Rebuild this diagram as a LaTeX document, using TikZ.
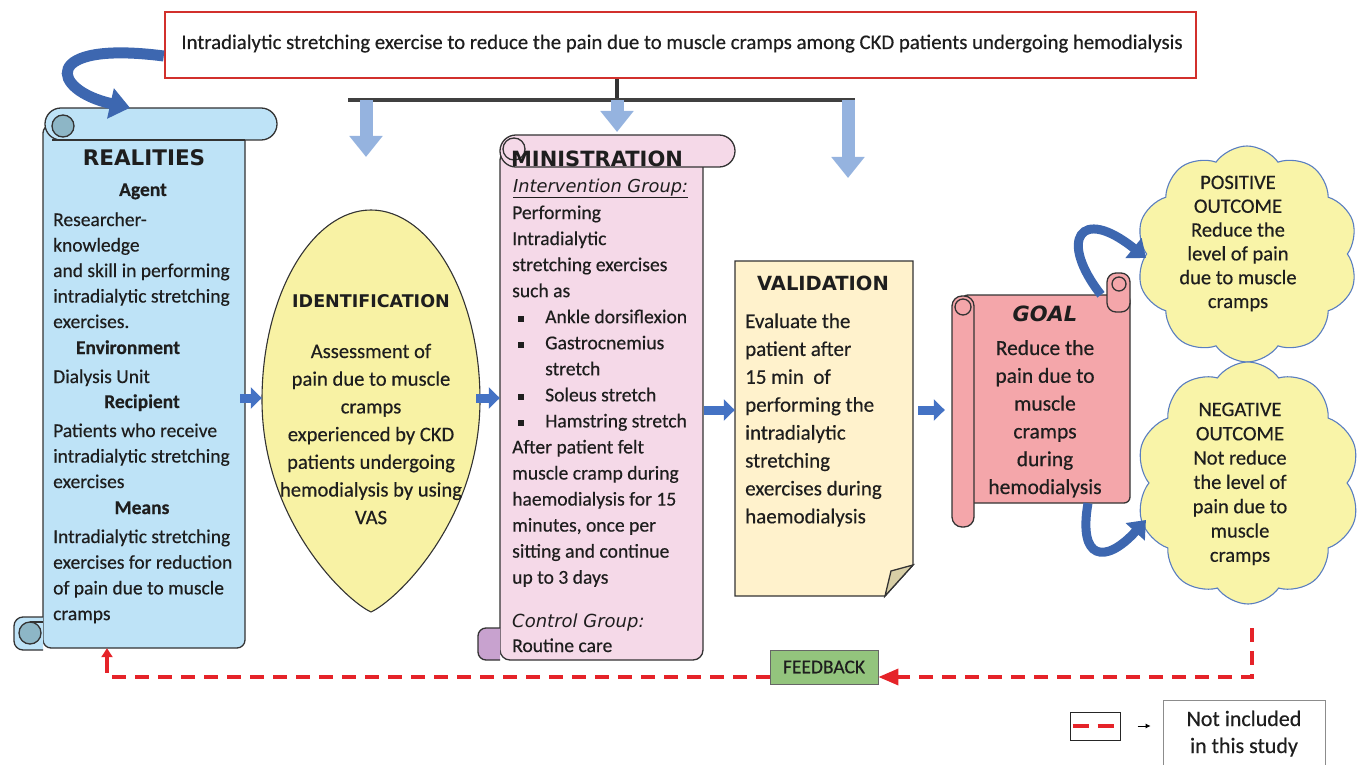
\documentclass[tikz,border=0pt]{standalone}
\usepackage{fontspec}
\setmainfont{Carlito}[FakeBold=0.4]
\newfontfamily\comic{DejaVu Sans}
\usetikzlibrary{shapes.symbols,arrows.meta,calc}
\definecolor{ink}{HTML}{1E1E1E}
\definecolor{realc}{HTML}{BEE3F7}
\definecolor{realcurl}{HTML}{8DB6C6}
\definecolor{identc}{HTML}{F8F2A4}
\definecolor{minic}{HTML}{F5D9E8}
\definecolor{minicurl}{HTML}{C8A2CF}
\definecolor{valc}{HTML}{FFF2CC}
\definecolor{foldc}{HTML}{D8CFA6}
\definecolor{goalc}{HTML}{F4A6AA}
\definecolor{cloudc}{HTML}{F9F4A8}
\definecolor{cloudline}{HTML}{5A7EC0}
\definecolor{barc}{HTML}{4472C4}
\definecolor{downc}{HTML}{95B3DF}
\definecolor{fbred}{HTML}{E52329}
\definecolor{fbgreen}{HTML}{93C47D}
\definecolor{topred}{HTML}{D2302C}
\begin{document}
\begin{tikzpicture}[x=1pt,y=-1pt,
  sc/.style={draw=black!80, line width=1.3pt},
  tl/.style={inner sep=0pt, anchor=base west, text=ink},
  tc/.style={inner sep=0pt, anchor=base, text=ink},
  hd/.style={tc, font=\fontsize{19.5}{22}\selectfont\bfseries},
  ttl/.style={tc, font=\comic\bfseries\fontsize{20}{22}\selectfont},
  area/.style={inner sep=0pt, draw=none},
  barrow/.style={line width=9pt, draw=barc, -{Triangle[width=21pt,length=11pt]}},
  downarrow/.style={line width=13pt, draw=downc, -{Triangle[width=32pt,length=21pt]}},
  curvarrow/.style={line width=11pt, draw=barc!90!black, -{Triangle[width=30pt,length=20pt]}},
  fbline/.style={draw=fbred, line width=3.5pt, dash pattern=on 14pt off 9pt},
]
\useasboundingbox (0,0) rectangle (1363,765);

% ---------- top box ----------
\node[draw=topred, line width=2.5pt, fill=white, minimum width=1031pt, minimum height=66pt, inner sep=0pt] (top) at (680.5,45) {};
\node[tc, font=\fontsize{20.8}{24}\selectfont] (toptext) at (682,49) {Intradialytic stretching exercise to reduce the pain due to muscle cramps among CKD patients undergoing hemodialysis};

% bracket
\coordinate (bt) at (617,0 |- top.south);
\coordinate (bm) at (617,100);
\coordinate (bl) at (348,100);
\coordinate (br) at (855,100);
\draw[line width=4pt, draw=black!80] (bt) -- (bm);
\draw[line width=4pt, draw=black!75] (bl) -- (br);
\coordinate (d1) at (366,100);
\coordinate (d2) at (617,100);
\coordinate (d3) at (848,100);
\coordinate (e1) at (366,157);
\coordinate (e2) at (617,132);
\coordinate (e3) at (848,178);
\draw[downarrow] (d1) -- (e1);
\draw[downarrow] (d2) -- (e2);
\draw[downarrow] (d3) -- (e3);

% ---------- REALITIES scroll ----------
\node[area, minimum width=202pt, minimum height=540pt] (real) at (144,378) {};
\draw[sc, fill=realc, rounded corners=8pt] (43,125) rectangle (245,648);
\draw[sc, fill=realc, rounded corners=9pt] (43,617) -- (14,617) -- (14,650) -- (43,650);
\draw[sc, fill=realcurl] (30,633) circle[radius=11];
\draw[sc] (30,622) -- (43,622);
\draw[sc, fill=realc, rounded corners=15.9pt] (45,108) rectangle (277,140);
\draw[sc, fill=realcurl] (63,126) circle[radius=11];
\draw[sc] (52,140) -- (245,140);

\node[ttl, font=\comic\bfseries\fontsize{21.5}{24}\selectfont] (realT) at (144,166) {REALITIES};
\node[hd] (agent) at (143,196) {Agent};
\node[tl, font=\fontsize{19.5}{25.5}\selectfont] (r1) at (53,226) {\parbox[t]{200pt}{\raggedright Researcher-\\knowledge\\and skill in performing\\intradialytic stretching\\exercises.}};
\node[hd] (env) at (128,354) {Environment};
\node[tl, font=\fontsize{19.5}{25.5}\selectfont] (r2) at (53,383) {Dialysis Unit};
\node[hd] (recip) at (142,408) {Recipient};
\node[tl, font=\fontsize{19.5}{25.5}\selectfont] (r3) at (53,437) {\parbox[t]{200pt}{\raggedright Patients who receive\\intradialytic stretching\\exercises}};
\node[hd] (means) at (142,514) {Means};
\node[tl, font=\fontsize{19.5}{25.7}\selectfont] (r4) at (53,543) {\parbox[t]{200pt}{\raggedright Intradialytic stretching\\exercises for reduction\\of pain due to muscle\\cramps}};

% ---------- IDENTIFICATION egg ----------
\node[area, minimum width=218pt, minimum height=402pt] (ident) at (371,411) {};
\draw[sc, fill=identc, line width=1.1pt] (371,210) .. controls (312,210) and (262,295) .. (262,400) .. controls (262,520) and (345,600) .. (371,612) .. controls (397,600) and (480,520) .. (480,400) .. controls (480,295) and (430,210) .. (371,210) -- cycle;
\node[ttl, font=\comic\bfseries\fontsize{17.5}{20}\selectfont] (identT) at (371,307) {IDENTIFICATION};
\node[tc, font=\fontsize{20.6}{27.7}\selectfont] (identB) at (371,358) {\parbox[t]{230pt}{\centering Assessment of\\pain due to muscle\\cramps\\experienced by CKD\\patients undergoing\\hemodialysis by using\\VAS}};

% ---------- MINISTRATION scroll ----------
\node[area, minimum width=203pt, minimum height=520pt] (mini) at (601.5,400) {};
\draw[sc, fill=minic, rounded corners=10pt] (500,150) rectangle (703,660);
\draw[sc, fill=minicurl, rounded corners=8pt] (500,628) -- (478,628) -- (478,660) -- (500,660);
\draw[sc, fill=minic, rounded corners=15.9pt] (500,135) rectangle (735,167);
\draw[sc] (514,149) circle[radius=11];
\node[ttl, font=\comic\bfseries\fontsize{21}{24}\selectfont] (miniT) at (597,167) {MINISTRATION};
\node[tl, font=\comic\itshape\fontsize{17.8}{20}\selectfont] (intg) at (513,192) {\underline{Intervention Group:}};
\node[tl, font=\fontsize{19.6}{26.05}\selectfont] (m1) at (512,219) {\parbox[t]{195pt}{\raggedright Performing\\Intradialytic\\stretching exercises\\such as\\
\makebox[33pt][l]{\hspace{6pt}\rule[1.5pt]{5.5pt}{5.5pt}}Ankle dorsiflexion\\
\makebox[33pt][l]{\hspace{6pt}\rule[1.5pt]{5.5pt}{5.5pt}}Gastrocnemius\\
\hspace*{33pt}stretch\\
\makebox[33pt][l]{\hspace{6pt}\rule[1.5pt]{5.5pt}{5.5pt}}Soleus stretch\\
\makebox[33pt][l]{\hspace{6pt}\rule[1.5pt]{5.5pt}{5.5pt}}Hamstring stretch\\
After patient felt\\muscle cramp during\\haemodialysis for 15\\minutes, once per\\sitting and continue\\up to 3 days}};
\node[tl, font=\comic\itshape\fontsize{18}{20}\selectfont] (ctrl) at (512,627) {Control Group:};
\node[tl, font=\fontsize{19.6}{22}\selectfont] (routine) at (512,652) {Routine care};

% ---------- VALIDATION ----------
\node[area, minimum width=178pt, minimum height=335pt] (valid) at (824,428.5) {};
\draw[sc, fill=valc] (735,261) -- (913,261) -- (913,565) -- (885,596) -- (735,596) -- cycle;
\draw[sc, fill=foldc] (913,565) -- (891,571) -- (885,596) -- cycle;
\node[ttl, font=\comic\bfseries\fontsize{19.5}{22}\selectfont] (validT) at (823,290) {VALIDATION};
\node[tl, font=\fontsize{21}{27.9}\selectfont] (v1) at (745,328) {\parbox[t]{165pt}{\raggedright Evaluate the\\patient after\\15 min\ \ of\\performing the\\intradialytic\\stretching\\exercises during\\haemodialysis}};

% ---------- GOAL scroll ----------
\node[area, minimum width=175pt, minimum height=208pt] (goal) at (1042.5,399) {};
\draw[sc, fill=goalc, rounded corners=6pt] (962,295) rectangle (1130,503);
\draw[sc, fill=goalc, rounded corners=9pt] (1107,273) rectangle (1130,312);
\draw[sc] (1119,284) circle[radius=7];
\draw[sc, fill=goalc, rounded corners=10pt] (952,296) rectangle (974,527);
\draw[sc] (963,307) circle[radius=8];
\node[ttl, font=\comic\bfseries\itshape\fontsize{21}{24}\selectfont] (goalT) at (1045,321) {GOAL};
\node[tc, font=\fontsize{21.5}{27.8}\selectfont] (goalB) at (1045,355) {\parbox[t]{150pt}{\centering Reduce the\\pain due to\\muscle\\cramps\\during\\hemodialysis}};

% ---------- clouds ----------
\node[cloud, cloud puffs=10, cloud puff arc=110, aspect=1, draw=cloudline, line width=1.1pt, fill=cloudc, minimum width=222pt, minimum height=216pt, inner sep=0pt] (pos) at (1247,254) {};
\node[tc, font=\fontsize{20.5}{23.8}\selectfont] (posT) at (1238,189) {\parbox[t]{160pt}{\centering POSITIVE\\OUTCOME\\Reduce the\\level of pain\\due to muscle\\cramps}};
\node[cloud, cloud puffs=10, cloud puff arc=110, aspect=0.95, draw=cloudline, line width=1.1pt, fill=cloudc, minimum width=224pt, minimum height=242pt, inner sep=0pt] (neg) at (1248,483) {};
\node[tc, font=\fontsize{20.5}{24.3}\selectfont] (negT) at (1240,416) {\parbox[t]{160pt}{\centering NEGATIVE\\OUTCOME\\Not reduce\\the level of\\pain due to\\muscle\\cramps}};

% ---------- block arrows between stages ----------
\draw[barrow] ([xshift=-5pt]real.east |- 0,398) -- (ident.west |- 0,398);
\draw[barrow] ([xshift=-4pt]ident.east |- 0,398) -- (mini.west |- 0,398);
\draw[barrow] ([xshift=1pt]mini.east |- 0,410) -- (valid.west |- 0,410);
\draw[barrow] ([xshift=5pt]valid.east |- 0,410) -- ([xshift=-10pt]goal.west |- 0,410);

% curved arrows
\draw[curvarrow] (top.west |- 0,56) .. controls (40,40) and (50,90) .. (130,0 |- real.north);
\draw[curvarrow, line width=9pt, -{Triangle[width=25pt,length=16pt]}] (1101,0 |- goal.north) .. controls (1058,240) and (1080,205) .. (pos.west |- 0,258);
\draw[curvarrow, line width=9pt, -{Triangle[width=25pt,length=16pt]}] (1088,0 |- goal.south) .. controls (1078,560) and (1105,565) .. (pos.west |- 0,520);

% ---------- feedback ----------
\node[draw=black!60, line width=0.8pt, fill=fbgreen, minimum width=108pt, minimum height=34pt, inner sep=0pt, font=\fontsize{19.5}{22}\selectfont, text=ink] (fb) at (824,667) {FEEDBACK};
\coordinate (nb) at (1252,628);
\coordinate (rb) at (107,0 |- real.south);
\draw[fbline] (nb) |- ($(fb.east)+(20,10)$);
\draw[draw=fbred, line width=3.5pt, -{Triangle[width=16pt,length=20pt]}] ($(fb.east)+(24,10)$) -- ($(fb.east)+(0,10)$);
\draw[fbline] ($(fb.west)+(0,10)$) -| ($(rb)+(0,14)$);
\draw[draw=fbred, line width=3.5pt, -{Triangle[width=11pt,length=9pt]}] ($(rb)+(0,16)$) -- (rb);

% ---------- legend ----------
\node[draw=black!85, line width=1pt, minimum width=50pt, minimum height=28pt, inner sep=0pt] (lgb) at (1095,726) {};
\draw[fbline, dash pattern=on 16pt off 9pt] ($(lgb.west)+(3,0)$) -- ($(lgb.east)+(-3,0)$);
\node[draw=black!45, line width=0.8pt, minimum width=162pt, minimum height=72pt, inner sep=0pt] (lgt) at (1244,736) {};
\node[tc, font=\fontsize{22}{27}\selectfont] (lgtext) at (1244,726) {\parbox[t]{150pt}{\centering Not included\\in this study}};
\draw[line width=0.8pt, -{Latex[length=5pt,width=5pt]}] ($(lgb.east)+(17,0)$) -- ($(lgt.west |- lgb.east)+(-12,0)$);
\end{tikzpicture}
\end{document}
